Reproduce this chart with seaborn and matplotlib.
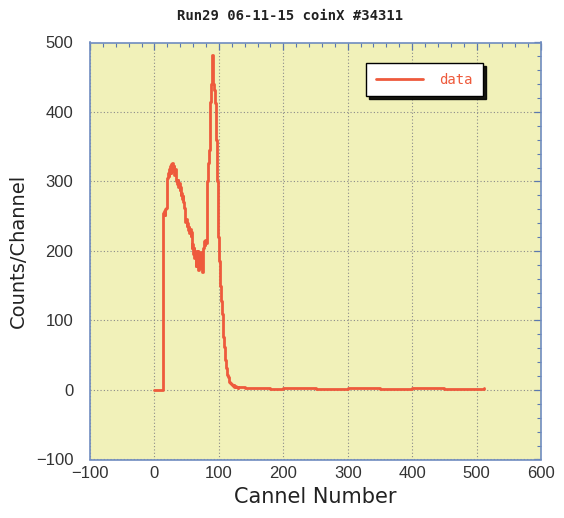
import matplotlib
matplotlib.use("Agg")
import matplotlib.pyplot as plt
import seaborn as sns
import pandas as pd
from matplotlib.ticker import MultipleLocator

# ---- data ----
channels = list(range(0, 131)) + [140, 160, 180, 200, 250, 300, 350, 400, 450, 511]
counts = ([0] * 13 +
          [250, 255, 258, 252, 260, 262, 300, 305, 312, 308,      # 13-22
           318, 322, 312, 325, 318, 326, 315, 322, 310, 318,      # 23-32
           305, 300, 296, 302, 292, 298, 288, 292, 280, 284,      # 33-42
           275, 279, 270, 262, 250, 242, 246, 236, 240, 230,      # 43-52
           234, 226, 232, 222, 228, 205, 210, 196, 204, 190,      # 53-62
           200, 178, 196, 184, 200, 172, 195, 180, 198, 175,      # 63-72
           190, 170, 196, 205, 214, 208, 216, 212, 220, 300,      # 73-82
           326, 340, 345, 384, 415, 440, 470, 482, 440, 436,      # 83-92
           432, 413, 405, 360, 300, 270, 220, 185, 165, 150,      # 93-102
           138, 128, 110, 90, 76, 62, 50, 43, 32, 26,             # 103-112
           22, 18, 14, 12, 11, 10, 8, 9, 7, 6,                    # 113-122
           7, 5, 6, 4, 5, 4, 3, 4] +                              # 123-130
          [3, 3, 2, 3, 2, 3, 2, 3, 2, 3])                         # tail
series_label = "data"
title = "Run29 06-11-15 coinX #34311"
x_label = "Cannel Number"
y_label = "Counts/Channel"
x_ticks = [-100, 0, 100, 200, 300, 400, 500, 600]
y_ticks = [-100, 0, 100, 200, 300, 400, 500]

df = pd.DataFrame({"channel": channels, "count": counts})

sns.set_theme(style="white")
plt.rcParams["font.family"] = ["Liberation Sans", "DejaVu Sans"]

fig = plt.figure(figsize=(5.64, 5.18), dpi=100)
ax = fig.add_axes([90 / 564, 1 - 459.5 / 518, 451 / 564, 417 / 518])
ax.set_facecolor("#f1f1b9")

line_color = "#ee5a3c"
sns.lineplot(data=df, x="channel", y="count", ax=ax, estimator=None,
             drawstyle="steps-post", color=line_color, linewidth=2.0,
             label=series_label)

ax.set_xlim(x_ticks[0], x_ticks[-1])
ax.set_ylim(y_ticks[0], y_ticks[-1])
ax.set_xticks(x_ticks)
ax.set_yticks(y_ticks)
ax.xaxis.set_minor_locator(MultipleLocator(20))
ax.yaxis.set_minor_locator(MultipleLocator(20))
ax.tick_params(which="both", direction="in", top=True, right=True,
               color="#5a78b0")
ax.tick_params(which="major", length=5, width=0.9)
ax.tick_params(which="minor", length=3, width=0.8)
ax.tick_params(axis="y", which="major", labelsize=12, pad=12, labelcolor="#333333")
ax.tick_params(axis="x", which="major", labelsize=12, pad=5, labelcolor="#333333")

ax.grid(True, which="major", linestyle=(0, (1, 2)), color="#8a8a8a", linewidth=0.8)
for s in ax.spines.values():
    s.set_visible(True)
    s.set_color("#6f8cc0")
    s.set_linewidth(1.2)

ax.set_xlabel(x_label, fontsize=15, labelpad=4, color="#222222",
              family=["DejaVu Sans"])
ax.set_ylabel(y_label, fontsize=14, labelpad=6, color="#222222",
              family=["DejaVu Sans"])

fig.text(290 / 564, 1 - 16 / 518, title, ha="center", va="center",
         fontsize=10, fontweight="bold", family=["DejaVu Sans Mono"],
         color="#222222")

leg = ax.legend(loc="upper right", bbox_to_anchor=(0.871, 0.951),
                borderaxespad=0, frameon=True,
                shadow={"color": "black", "alpha": 0.9},
                fancybox=False, handlelength=3.4,
                prop={"family": "DejaVu Sans Mono", "size": 10},
                labelcolor="linecolor", borderpad=0.7, handletextpad=1.2)
leg.get_frame().set_edgecolor("black")
leg.get_frame().set_facecolor("white")
leg.get_frame().set_linewidth(1.0)

fig.savefig("out.png", dpi=100)
